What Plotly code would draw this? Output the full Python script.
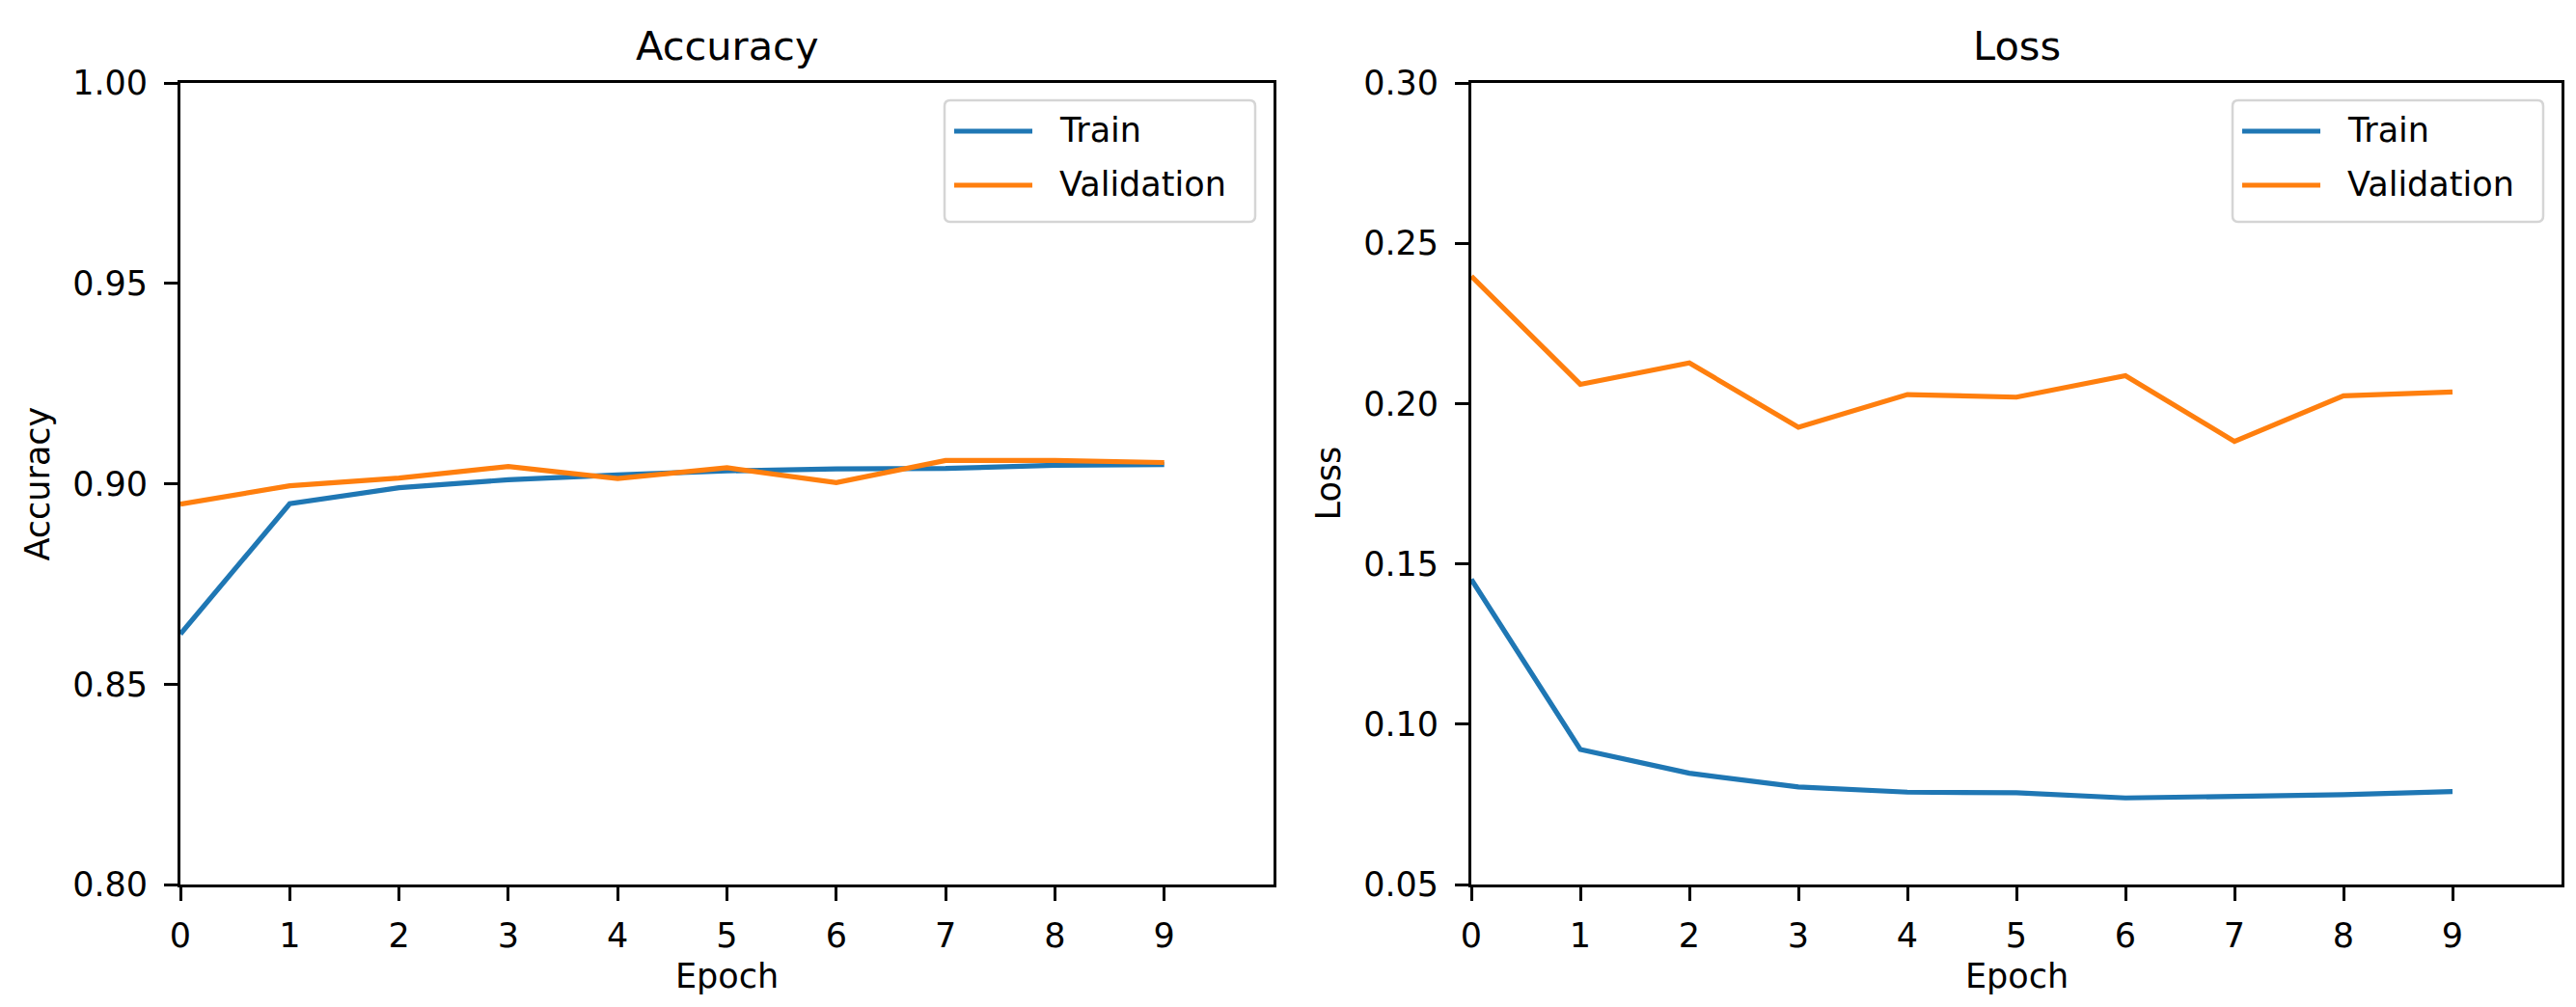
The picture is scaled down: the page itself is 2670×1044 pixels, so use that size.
import plotly.graph_objects as go

# training history
epochs = list(range(10))
train_acc = [0.8625, 0.8950, 0.8990, 0.9010, 0.9022, 0.9032, 0.9037, 0.9038, 0.9046, 0.9048]
val_acc = [0.8949, 0.8995, 0.9014, 0.9043, 0.9013, 0.9040, 0.9003, 0.9058, 0.9058, 0.9053]
train_loss = [0.1452, 0.0921, 0.0847, 0.0804, 0.0788, 0.0786, 0.0770, 0.0776, 0.0780, 0.0790]
val_loss = [0.2397, 0.2060, 0.2127, 0.1926, 0.2028, 0.2020, 0.2087, 0.1882, 0.2024, 0.2036]

acc_ticks = [0.80, 0.85, 0.90, 0.95, 1.00]
loss_ticks = [0.05, 0.10, 0.15, 0.20, 0.25, 0.30]
series_names = ["Train", "Validation"]
series_colors = ["#1f77b4", "#ff7f0e"]

W, H = 2670, 1044
FONT = "DejaVu Sans"


def px(x):
    return x / W


def py(y):
    return 1 - y / H


def rounded_box(l, t, r, b, rad=6):
    # path in paper coords, corners drawn with quadratic curves
    pts = [
        f"M{px(l + rad)},{py(t)}",
        f"L{px(r - rad)},{py(t)}",
        f"Q{px(r)},{py(t)} {px(r)},{py(t + rad)}",
        f"L{px(r)},{py(b - rad)}",
        f"Q{px(r)},{py(b)} {px(r - rad)},{py(b)}",
        f"L{px(l + rad)},{py(b)}",
        f"Q{px(l)},{py(b)} {px(l)},{py(b - rad)}",
        f"L{px(l)},{py(t + rad)}",
        f"Q{px(l)},{py(t)} {px(l + rad)},{py(t)}",
        "Z",
    ]
    return " ".join(pts)


fig = go.Figure()

panels = [
    # (axis suffix, series, y ticks, title, left px, right px)
    ("", [train_acc, val_acc], acc_ticks, "Accuracy", 179, 1312),
    ("2", [train_loss, val_loss], loss_ticks, "Loss", 1517, 2647),
]

top_px, bottom_px = 78, 909

for suffix, ys, ticks, title, left, right in panels:
    for y, name, color in zip(ys, series_names, series_colors):
        fig.add_trace(go.Scatter(
            x=epochs, y=y, mode="lines", name=name,
            line=dict(color=color, width=5.2),
            xaxis="x" + suffix, yaxis="y" + suffix, showlegend=False,
        ))

    axis_common = dict(
        showline=True, mirror=True, linecolor="black", linewidth=2.8,
        ticks="outside", ticklen=14, tickwidth=2.8, tickcolor="black",
        showgrid=False, zeroline=False,
        tickfont=dict(family=FONT, size=35, color="black"),
        automargin=False,
    )
    fig.update_layout({
        "xaxis" + suffix: dict(
            domain=[px(left), px(right)], range=[0, 10],
            tickvals=epochs, anchor="y" + suffix,
            ticklabelstandoff=6, **axis_common),
        "yaxis" + suffix: dict(
            domain=[py(bottom_px), py(top_px)],
            range=[ticks[0], ticks[-1]], tickvals=ticks, tickformat=".2f",
            anchor="x" + suffix, ticklabelstandoff=10, **axis_common),
    })

    centre = (left + right) / 2
    # subplot title and axis labels
    fig.add_annotation(text=title, x=px(centre), y=py(40), xref="paper", yref="paper",
                       showarrow=False, xanchor="center", yanchor="middle",
                       font=dict(family=FONT, size=41.5, color="black"))
    fig.add_annotation(text="Epoch", x=px(centre), y=py(1004), xref="paper", yref="paper",
                       showarrow=False, xanchor="center", yanchor="middle",
                       font=dict(family=FONT, size=35, color="black"))
    fig.add_annotation(text=title, x=px(left - 148), y=py((top_px + bottom_px) / 2),
                       xref="paper", yref="paper", textangle=-90,
                       showarrow=False, xanchor="center", yanchor="middle",
                       font=dict(family=FONT, size=35, color="black"))

    # legend box in the upper right corner
    box_l, box_r = right - 341, right - 19
    fig.add_shape(type="path", xref="paper", yref="paper",
                  path=rounded_box(box_l, 96, box_r, 222),
                  line=dict(color="#d5d5d5", width=2.5), fillcolor="rgba(255,255,255,0.8)",
                  layer="above")
    for row_y, name, color in zip([128, 184], series_names, series_colors):
        fig.add_shape(type="line", xref="paper", yref="paper",
                      x0=px(box_l + 10), x1=px(box_l + 91), y0=py(row_y), y1=py(row_y),
                      line=dict(color=color, width=5.2), layer="above")
        fig.add_annotation(text=name, x=px(box_l + 117), y=py(row_y - 1),
                           xref="paper", yref="paper", showarrow=False,
                           xanchor="left", yanchor="middle",
                           font=dict(family=FONT, size=35, color="black"))

fig.update_layout(
    width=W, height=H,
    margin=dict(l=0, r=0, t=0, b=0),
    paper_bgcolor="white", plot_bgcolor="white",
    showlegend=False,
)

fig.write_html("out.html")
